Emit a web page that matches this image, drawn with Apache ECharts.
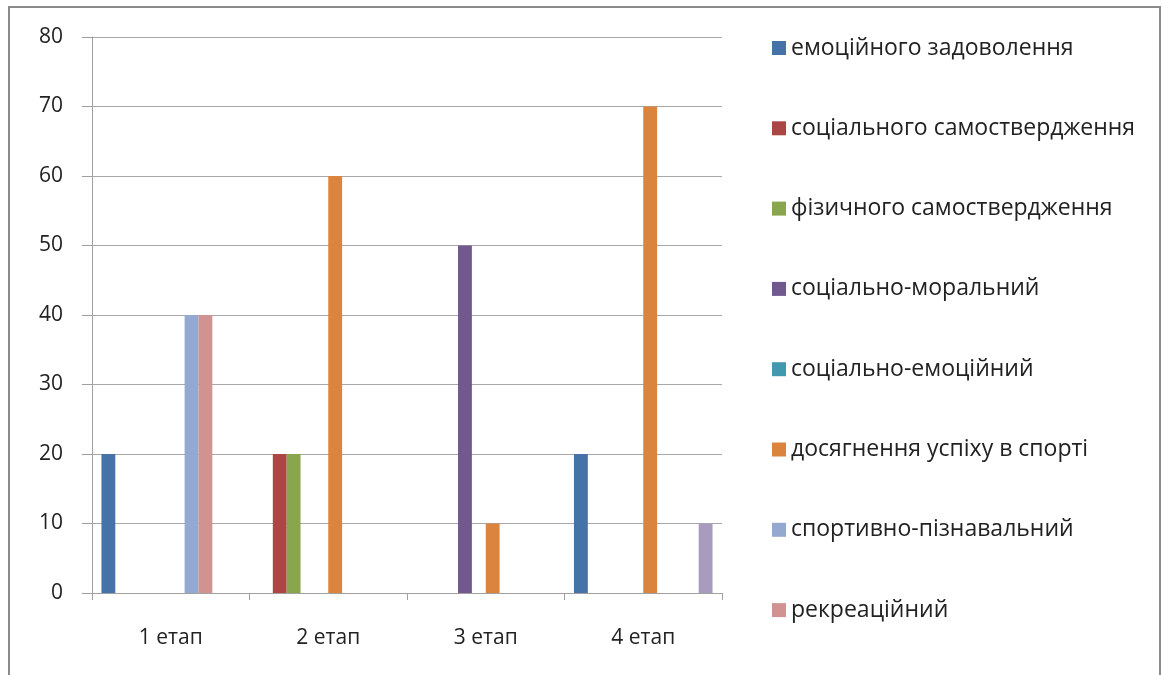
<!DOCTYPE html>
<html>
<head>
<meta charset="utf-8">
<style>
  html, body { margin: 0; padding: 0; background: #fff; }
  #chart { width: 1165px; height: 675px; }
</style>
<script src="https://cdn.jsdelivr.net/npm/echarts@6/dist/echarts.min.js"></script>
</head>
<body>
<div id="chart"></div>
<script>
// Stages of training
const categories = ['1 етап', '2 етап', '3 етап', '4 етап'];

// Motive groups, values per stage (%)
const emotionalSatisfaction = [20, 0, 0, 20];
const socialSelfAssertion   = [0, 20, 0, 0];
const physicalSelfAssertion = [0, 20, 0, 0];
const socialMoral           = [0, 0, 50, 0];
const socialEmotional       = [0, 0, 0, 0];
const sportSuccess          = [0, 60, 10, 70];
const sportCognitive        = [40, 0, 0, 0];
const recreational          = [40, 0, 0, 0];
const series9               = [0, 0, 0, 0];
const series10              = [0, 0, 0, 10];

const seriesNames = [
  'емоційного задоволення',
  'соціального самоствердження',
  'фізичного самоствердження',
  'соціально-моральний',
  'соціально-емоційний',
  'досягнення успіху в спорті',
  'спортивно-пізнавальний',
  'рекреаційний',
  'ряд 9',
  'ряд 10'
];
const seriesValues = [
  emotionalSatisfaction, socialSelfAssertion, physicalSelfAssertion,
  socialMoral, socialEmotional, sportSuccess, sportCognitive,
  recreational, series9, series10
];
const colors = ['#4572A7', '#AA4643', '#89A54E', '#71588F', '#4198AF',
                '#DB843D', '#93A9CF', '#D19392', '#B9CD96', '#A99BBD'];

const yTicks = [0, 10, 20, 30, 40, 50, 60, 70, 80];

const FONT = '"Open Sans", sans-serif';
const TEXT = '#222';

const chart = echarts.init(document.getElementById('chart'), null, { renderer: 'canvas' });

chart.setOption({
  animation: false,
  backgroundColor: '#fff',
  color: colors,
  textStyle: { fontFamily: FONT },
  graphic: [{
    type: 'rect',
    shape: { x: 9, y: 7, width: 1151, height: 680 },
    style: { fill: 'none', stroke: '#8a8a8a', lineWidth: 2 },
    silent: true
  }],
  grid: { left: 92, right: 443, top: 37, bottom: 82, containLabel: false },
  legend: {
    data: seriesNames.slice(0, 8),
    orient: 'vertical',
    left: 767,
    top: 31,
    itemWidth: 14,
    itemHeight: 14,
    itemGap: 56.3,
    icon: 'rect',
    textStyle: { fontFamily: FONT, fontSize: 23, color: TEXT, lineHeight: 24 }
  },
  xAxis: {
    type: 'category',
    data: categories,
    axisLine: { lineStyle: { color: '#a0a0a0', width: 1 } },
    axisTick: { show: true, length: 7, alignWithLabel: false, lineStyle: { color: '#a0a0a0' } },
    axisLabel: { fontFamily: FONT, fontSize: 21, color: TEXT, margin: 35 },
    splitLine: { show: false }
  },
  yAxis: {
    type: 'value',
    min: yTicks[0],
    max: yTicks[yTicks.length - 1],
    interval: 10,
    axisLine: { show: true, lineStyle: { color: '#a0a0a0', width: 1 } },
    axisTick: { show: true, length: 10, lineStyle: { color: '#a0a0a0' } },
    axisLabel: { fontFamily: FONT, fontSize: 21, color: TEXT, margin: 29 },
    splitLine: { show: true, lineStyle: { color: '#a8a8a8', width: 1 } }
  },
  series: seriesNames.map((name, i) => ({
    name: name,
    type: 'bar',
    data: seriesValues[i],
    barGap: '0%',
    barCategoryGap: '12%',
    itemStyle: { color: colors[i] }
  }))
});
</script>
</body>
</html>
